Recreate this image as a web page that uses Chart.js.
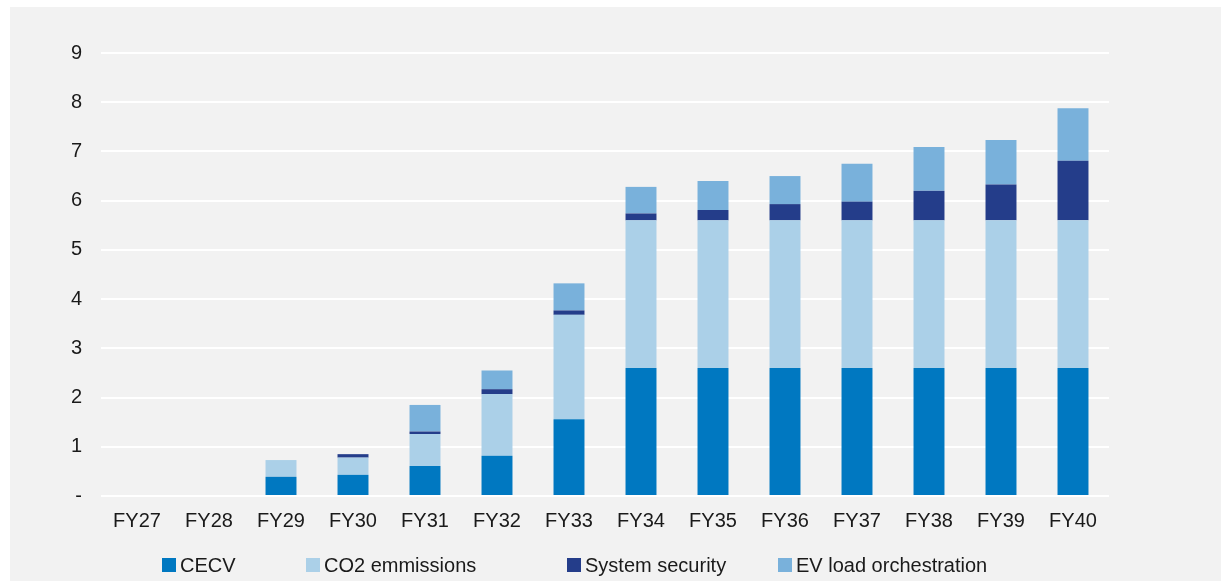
<!DOCTYPE html>
<html>
<head>
<meta charset="utf-8">
<script src="https://cdn.jsdelivr.net/npm/chart.js@4/dist/chart.umd.min.js"></script>
<style>
  html, body { margin: 0; padding: 0; background: #ffffff; }
  #wrap { position: absolute; left: 10px; top: 7px; width: 1211px; height: 574px; background: #F2F2F2; overflow: hidden; }
  #c { position: absolute; left: 0; top: 0; }
  #legend { position: absolute; left: 0; top: 548px; width: 100%; height: 20px; }
  .item { position: absolute; top: 0; height: 20px; display: flex; align-items: center;
          font-family: "Liberation Sans", Arial, sans-serif; font-size: 20px; line-height: 20px; color: #1a1a1a; white-space: nowrap; }
  .sw { width: 14px; height: 14px; margin-right: 4px; }
</style>
</head>
<body>
<div id="wrap">
  <canvas id="c" width="1211" height="574"></canvas>
  <div id="legend"></div>
</div>
<script>
const categories = ['FY27','FY28','FY29','FY30','FY31','FY32','FY33','FY34','FY35','FY36','FY37','FY38','FY39','FY40'];
const cecv       = [0, 0, 0.39, 0.43, 0.61, 0.82, 1.56, 2.60, 2.60, 2.60, 2.60, 2.60, 2.60, 2.60];
const co2        = [0, 0, 0.34, 0.35, 0.65, 1.25, 2.12, 3.00, 3.00, 3.00, 3.00, 3.00, 3.00, 3.00];
const sysSec     = [0, 0, 0, 0.07, 0.05, 0.10, 0.09, 0.14, 0.21, 0.33, 0.38, 0.60, 0.73, 1.21];
const evLoad     = [0, 0, 0, 0, 0.54, 0.38, 0.55, 0.54, 0.59, 0.57, 0.77, 0.89, 0.90, 1.07];
const yTickLabels = ['-', '1', '2', '3', '4', '5', '6', '7', '8', '9'];
const seriesNames = ['CECV', 'CO2 emmissions', 'System security', 'EV load orchestration'];
const seriesColors = ['#0078C1', '#ABD0E8', '#243D8A', '#79B1DB'];
const legendLeft = [152, 296, 557, 768];

const seriesData = [cecv, co2, sysSec, evLoad];
const datasets = seriesNames.map((name, i) => ({
  label: name,
  data: seriesData[i],
  backgroundColor: seriesColors[i],
  borderWidth: 0,
  barPercentage: 0.43,
  categoryPercentage: 1.0
}));

const font = { family: '"Liberation Sans", Arial, sans-serif', size: 20 };

new Chart(document.getElementById('c'), {
  type: 'bar',
  data: { labels: categories, datasets },
  options: {
    responsive: false,
    animation: false,
    devicePixelRatio: 1,
    layout: { padding: { top: 46, right: 112, left: 0, bottom: 0 } },
    plugins: { legend: { display: false }, tooltip: { enabled: false } },
    scales: {
      x: {
        stacked: true,
        grid: { display: false, drawTicks: false },
        border: { display: false },
        ticks: { font, color: '#1a1a1a', padding: 13, maxRotation: 0, autoSkip: false },
        afterFit(scale) { scale.height = 85; }
      },
      y: {
        stacked: true,
        min: 0, max: 9,
        grid: { color: '#FFFFFF', lineWidth: 2, drawTicks: false },
        border: { display: false },
        ticks: {
          stepSize: 1, font, color: '#1a1a1a', padding: 19,
          callback: (v) => yTickLabels[v]
        },
        afterFit(scale) { scale.width = 91; }
      }
    }
  }
});

const legend = document.getElementById('legend');
seriesNames.forEach((name, i) => {
  const it = document.createElement('div');
  it.className = 'item';
  it.style.left = legendLeft[i] + 'px';
  const sw = document.createElement('span');
  sw.className = 'sw';
  sw.style.background = seriesColors[i];
  const tx = document.createElement('span');
  tx.textContent = name;
  it.appendChild(sw); it.appendChild(tx);
  legend.appendChild(it);
});
</script>
</body>
</html>
